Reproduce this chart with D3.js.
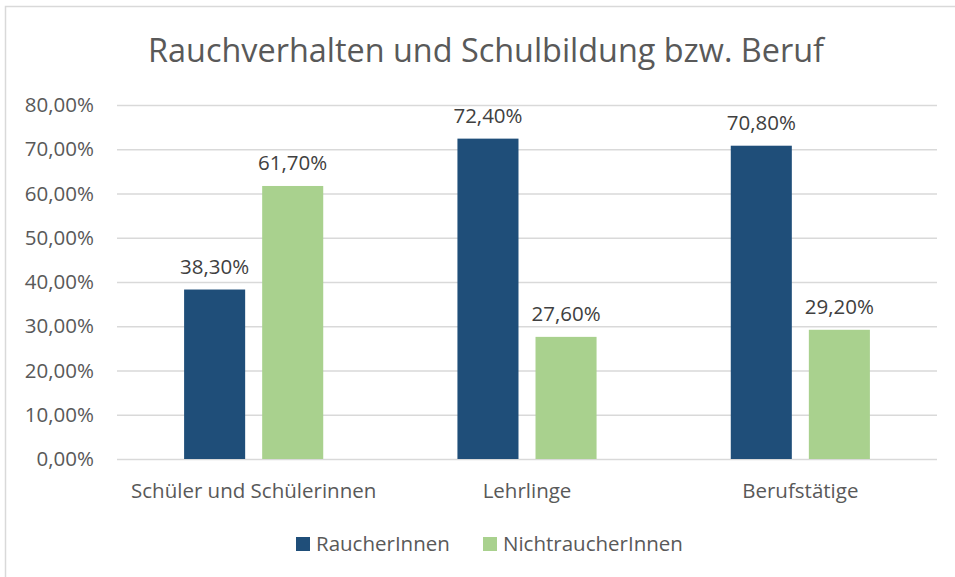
<!DOCTYPE html>
<html lang="de">
  <head>
    <meta charset="utf-8">
    <title>Rauchverhalten und Schulbildung bzw. Beruf</title>
    <script type="text/javascript" src="https://d3js.org/d3.v7.min.js"></script>
    <style>
      body { margin: 0; background: #fff; }
      text { font-family: "Open Sans", "Liberation Sans", sans-serif; fill: #595959; }
      .vlabel { fill: #404040; }
    </style>
  </head>
  <body>
    <svg class="chart"></svg>
  </body>
  <script>
    // data
    const categories = ["Schüler und Schülerinnen", "Lehrlinge", "Berufstätige"];
    const seriesNames = ["RaucherInnen", "NichtraucherInnen"];
    const raucher = [38.3, 72.4, 70.8];
    const nichtraucher = [61.7, 27.6, 29.2];
    const yTicks = [0, 10, 20, 30, 40, 50, 60, 70, 80];

    const colors = ["#1F4E79", "#A9D18E"];
    const width = 955, height = 577;
    const plot = {left: 117, right: 937, top: 105, bottom: 459};
    const fontSize = "20.5px";

    const fmt = v => v.toFixed(2).replace(".", ",") + "%";

    var svg = d3.select(".chart").attr("width", width).attr("height", height);

    // outer frame
    svg.append("rect")
      .attr("x", 5.5).attr("y", 6.5)
      .attr("width", 960).attr("height", 580)
      .attr("fill", "none").attr("stroke", "#D9D9D9").attr("stroke-width", 1.5);

    var y = d3.scaleLinear().domain([0, 80]).range([plot.bottom, plot.top]);
    var x0 = d3.scaleBand().domain(categories).range([plot.left, plot.right])
      .paddingInner(0.491).paddingOuter(0.2455);
    var x1 = d3.scaleBand().domain(seriesNames).range([0, x0.bandwidth()]).paddingInner(0.218);

    // gridlines + y labels
    var yAxis = d3.axisLeft(y).tickValues(yTicks)
      .tickSize(-(plot.right - plot.left))
      .tickPadding(23)
      .tickFormat(fmt);
    var gy = svg.append("g").attr("transform", "translate(" + plot.left + ",0)").call(yAxis);
    gy.select(".domain").remove();
    gy.selectAll(".tick line").attr("stroke", "#D9D9D9").attr("stroke-width", 1.3);
    gy.selectAll(".tick text").attr("font-size", fontSize).attr("fill", "#595959")
      .style("font-family", "'Open Sans', sans-serif");

    // bars
    var rows = categories.map((c, i) => ({cat: c, values: [raucher[i], nichtraucher[i]]}));
    var groups = svg.selectAll(".group").data(rows).enter().append("g")
      .attr("class", "group")
      .attr("transform", d => "translate(" + x0(d.cat) + ",0)");

    groups.selectAll("rect")
      .data(d => d.values.map((v, j) => ({name: seriesNames[j], value: v, j: j})))
      .enter().append("rect")
        .attr("x", d => x1(d.name))
        .attr("width", x1.bandwidth())
        .attr("y", d => y(d.value))
        .attr("height", d => y(0) - y(d.value))
        .attr("fill", d => colors[d.j]);

    groups.selectAll(".vlabel")
      .data(d => d.values.map((v, j) => ({name: seriesNames[j], value: v})))
      .enter().append("text")
        .attr("class", "vlabel")
        .attr("x", d => x1(d.name) + x1.bandwidth() / 2)
        .attr("y", d => y(d.value) - 16)
        .attr("text-anchor", "middle")
        .attr("font-size", fontSize)
        .text(d => fmt(d.value));

    // category labels
    svg.selectAll(".clabel").data(categories).enter().append("text")
      .attr("class", "clabel")
      .attr("x", d => x0(d) + x0.bandwidth() / 2)
      .attr("y", 498)
      .attr("text-anchor", "middle")
      .attr("font-size", fontSize)
      .text(d => d);

    // title
    svg.append("text")
      .attr("x", 486)
      .attr("y", 62)
      .attr("text-anchor", "middle")
      .attr("font-size", "32.4px")
      .text("Rauchverhalten und Schulbildung bzw. Beruf");

    // legend
    var legendX = [296, 483];
    var leg = svg.selectAll(".legend").data(seriesNames).enter().append("g")
      .attr("class", "legend")
      .attr("transform", (d, i) => "translate(" + legendX[i] + ",537)");
    leg.append("rect").attr("width", 14).attr("height", 14).attr("fill", (d, i) => colors[i]);
    leg.append("text").attr("x", 20).attr("y", 14).attr("font-size", fontSize).text(d => d);
  </script>
</html>
